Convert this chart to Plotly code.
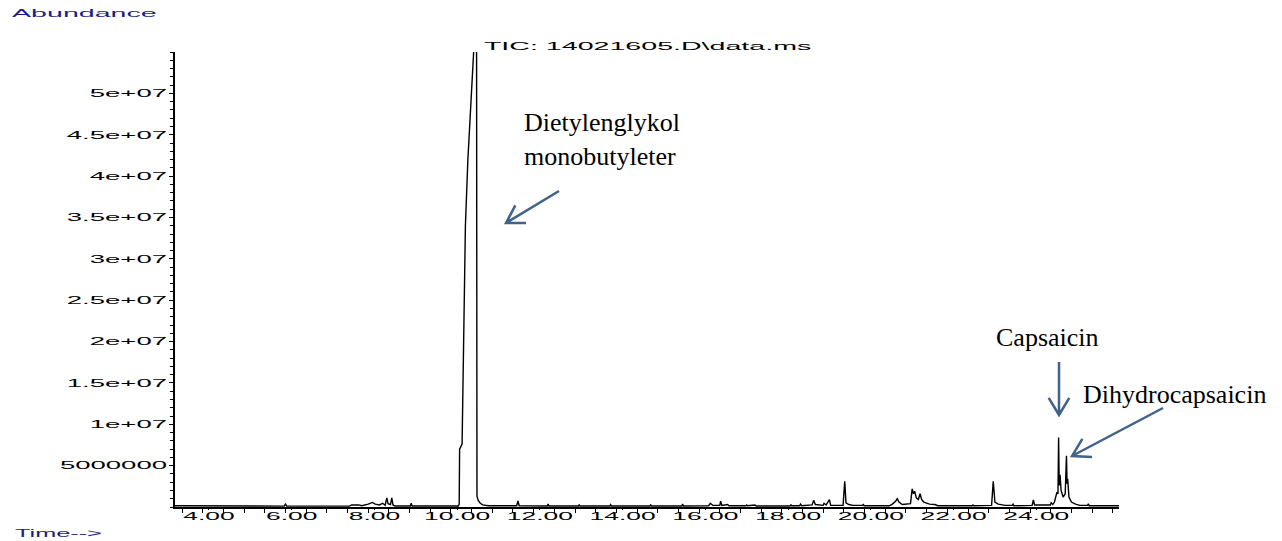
import math
import plotly.graph_objects as go

# ---------------- data ----------------
time_min = [
    3.18, 4.40, 4.45, 5.82, 5.85, 5.88, 7.40, 7.45, 7.62, 7.70, 7.85, 7.95, 8.02, 8.12,
    8.20, 8.26, 8.30, 8.33, 8.39, 8.42, 8.45, 8.50, 8.87, 8.89, 8.91, 10.03, 10.05,
    10.06, 10.12, 10.14, 10.17, 10.20, 10.26, 10.32, 10.37, 10.41, 10.45, 10.47, 10.48,
    10.51, 10.56, 10.62, 10.75, 11.44, 11.47, 11.50, 12.18, 12.20, 12.22, 12.93, 12.95,
    12.97, 13.69, 13.71, 13.73, 14.66, 14.68, 14.70, 15.43, 15.45, 15.47, 16.08, 16.12,
    16.18, 16.35, 16.37, 16.40, 16.54, 16.57, 16.98, 17.00, 17.02, 17.20, 17.23, 18.05,
    18.07, 18.09, 18.28, 18.30, 18.33, 18.58, 18.62, 18.66, 18.85, 18.87, 18.92, 19.00,
    19.03, 19.33, 19.37, 19.40, 19.47, 19.57, 19.80, 19.82, 19.84, 20.45, 20.52, 20.60,
    20.64, 20.68, 20.72, 20.76, 20.96, 21.00, 21.03, 21.06, 21.10, 21.15, 21.19, 21.23,
    21.28, 21.35, 21.42, 21.55, 21.62, 22.45, 22.47, 22.49, 22.92, 22.96, 23.00, 23.08,
    23.25, 23.42, 23.44, 23.46, 23.90, 23.93, 23.96, 24.34, 24.36, 24.40, 24.44, 24.50,
    24.525, 24.54, 24.555, 24.575, 24.60, 24.65, 24.70, 24.73, 24.745, 24.76, 24.79,
    24.85, 24.95, 25.05, 25.24, 25.26, 25.28, 26.00,
]
abundance_millions = [
    0.15, 0.15, 0.10, 0.10, 0.35, 0.10, 0.10, 0.25, 0.25, 0.15, 0.35, 0.55, 0.35, 0.25,
    0.45, 0.20, 1.10, 0.40, 0.30, 1.10, 0.25, 0.12, 0.12, 0.45, 0.12, 0.12, 0.35,
    7.0, 7.6, 15.0, 26.0, 34.0, 42.0, 48.5, 52.5, 56.0, 58.0, 57.0, 1.3,
    0.80, 0.45, 0.25, 0.15, 0.15, 0.75, 0.15, 0.12, 0.35, 0.12, 0.12, 0.25,
    0.12, 0.12, 0.28, 0.12, 0.12, 0.25, 0.12, 0.12, 0.35, 0.12, 0.15, 0.45,
    0.20, 0.20, 0.70, 0.20, 0.30, 0.15, 0.15, 0.25, 0.15, 0.25, 0.12, 0.12,
    0.25, 0.15, 0.15, 0.35, 0.15, 0.25, 0.80, 0.30, 0.20, 0.45, 0.25, 0.90,
    0.20, 0.20, 3.10, 0.50, 0.30, 0.20, 0.20, 0.30, 0.15, 0.15, 0.35, 0.70,
    1.00, 0.60, 0.50, 0.30, 0.40, 2.20, 1.60, 1.90, 1.10, 0.90, 1.60, 0.90,
    0.60, 0.50, 0.35, 0.30, 0.15, 0.15, 0.25, 0.15, 0.20, 3.10, 0.60, 0.35,
    0.20, 0.20, 0.35, 0.15, 0.20, 0.85, 0.25, 0.25, 0.50, 0.30, 0.60, 1.80,
    1.60, 8.40, 2.60, 3.90, 2.00, 1.20, 1.60, 6.20, 2.80, 3.40, 1.20,
    0.60, 0.35, 0.20, 0.20, 0.40, 0.15, 0.15,
]
abundance = [v * 1e6 for v in abundance_millions]

x_tick_values = [4, 6, 8, 10, 12, 14, 16, 18, 20, 22, 24]
x_tick_labels = ["4.00", "6.00", "8.00", "10.00", "12.00", "14.00", "16.00",
                 "18.00", "20.00", "22.00", "24.00"]
y_tick_values = [5e6, 1e7, 1.5e7, 2e7, 2.5e7, 3e7, 3.5e7, 4e7, 4.5e7, 5e7]
y_tick_labels = ["5000000", "1e+07", "1.5e+07", "2e+07", "2.5e+07", "3e+07",
                 "3.5e+07", "4e+07", "4.5e+07", "5e+07"]

title_text = "TIC: 14021605.D\\data.ms"
peak_labels = ["Dietylenglykol<br>monobutyleter", "Capsaicin", "Dihydrocapsaicin"]

# ---------------- layout geometry ----------------
W, H = 1282, 541
ML, MR, MT, MB = 175, 163, 52, 34
PW, PH = W - ML - MR, H - MT - MB


def px(xp):
    return (xp - ML) / PW


def py(yp):
    return (H - MB - yp) / PH


ARROW = "#41628a"
NAVY = "#1d1d84"
MONO = "Liberation Sans, Arial, sans-serif"
SERIF = "Liberation Serif, Times New Roman, serif"

fig = go.Figure()
fig.add_trace(go.Scatter(
    x=time_min, y=abundance, mode="lines",
    line=dict(color="black", width=1.4), hoverinfo="skip", showlegend=False,
))

annotations = [
    dict(text=title_text, x=px(648), y=py(46), xref="paper", yref="paper",
         xanchor="center", yanchor="middle", showarrow=False,
         font=dict(family=MONO, size=11, color="black")),
    dict(text="Abundance", x=px(10), y=py(13), xref="paper", yref="paper",
         xanchor="left", yanchor="middle", showarrow=False,
         font=dict(family=MONO, size=11, color=NAVY)),
    dict(text="Time-->", x=px(13), y=py(533), xref="paper", yref="paper",
         xanchor="left", yanchor="middle", showarrow=False,
         font=dict(family=MONO, size=11, color=NAVY)),
    dict(text=peak_labels[0], x=px(522), y=py(139), xref="paper", yref="paper",
         xanchor="left", yanchor="middle", align="left", showarrow=False,
         font=dict(family=SERIF, size=26, color="black")),
    dict(text=peak_labels[1], x=px(1047), y=py(337), xref="paper", yref="paper",
         xanchor="center", yanchor="middle", showarrow=False,
         font=dict(family=SERIF, size=26, color="black")),
    dict(text=peak_labels[2], x=px(1174), y=py(394), xref="paper", yref="paper",
         xanchor="center", yanchor="middle", showarrow=False,
         font=dict(family=SERIF, size=26, color="black")),
]

# open-V arrows (pixel tail -> pixel tip)
arrows = [((559, 191), (506, 223)), ((1059, 362), (1059, 415)), ((1163, 408), (1072, 456))]
shapes = []
for (tx, ty), (hx, hy) in arrows:
    ang = math.atan2(ty - hy, tx - hx)
    L, half = 20, math.radians(31)
    w1 = (hx + L * math.cos(ang + half), hy + L * math.sin(ang + half))
    w2 = (hx + L * math.cos(ang - half), hy + L * math.sin(ang - half))
    path = (f"M {px(tx)},{py(ty)} L {px(hx)},{py(hy)} "
            f"M {px(w1[0])},{py(w1[1])} L {px(hx)},{py(hy)} L {px(w2[0])},{py(w2[1])}")
    shapes.append(dict(type="path", path=path, xref="paper", yref="paper",
                       line=dict(color=ARROW, width=2.5)))

fig.update_layout(
    width=W, height=H, autosize=False,
    margin=dict(l=ML, r=MR, t=MT, b=MB, pad=0),
    paper_bgcolor="white", plot_bgcolor="white",
    showlegend=False,
    annotations=annotations,
    shapes=shapes,
    font=dict(family=MONO, size=11, color="black"),
    xaxis=dict(
        range=[3.18, 26.0], showgrid=False, zeroline=False,
        showline=True, linecolor="black", linewidth=1.6,
        tickmode="array", tickvals=x_tick_values, ticktext=x_tick_labels,
        ticks="outside", ticklen=1, tickcolor="black", tickwidth=1,
        ticklabelstandoff=-3,
        tickfont=dict(family=MONO, size=11, color="black"),
        minor=dict(ticks="outside", ticklen=4, tick0=3.35, dtick=0.5,
                   tickcolor="black", tickwidth=1),
    ),
    yaxis=dict(
        range=[0, 55.0e6], showgrid=False, zeroline=False,
        showline=True, linecolor="black", linewidth=1.6,
        tickmode="array", tickvals=y_tick_values, ticktext=y_tick_labels,
        ticks="outside", ticklen=4, tickcolor="black", tickwidth=1,
        tickfont=dict(family=MONO, size=11, color="black"),
        minor=dict(ticks="outside", ticklen=3, dtick=1e6, tick0=0,
                   tickcolor="black", tickwidth=1),
    ),
)

# The instrument font is very wide: stretch text horizontally around its anchor.
post = """
var gd = document.getElementById('{plot_id}');
function stretchText(){
  function st(el, sx, mode){
    if (el.getAttribute('data-sx')) return;
    var bb = el.getBBox();
    var cx = mode === 'end' ? bb.x + bb.width : (mode === 'start' ? bb.x : bb.x + bb.width / 2);
    var tr = el.getAttribute('transform') || '';
    el.setAttribute('transform', tr + ' translate(' + cx + ',0) scale(' + sx + ',1) translate(' + (-cx) + ',0)');
    el.setAttribute('data-sx', '1');
  }
  gd.querySelectorAll('.ytick text').forEach(function(t){ st(t, 2.5, 'end'); });
  gd.querySelectorAll('.xtick text').forEach(function(t){ st(t, 2.4, 'middle'); });
  var modes = {'0': ['middle', 2.6], '1': ['start', 2.6], '2': ['start', 2.3]};
  gd.querySelectorAll('g.annotation').forEach(function(g){
    var i = g.getAttribute('data-index');
    if (modes[i]) {
      g.querySelectorAll('text').forEach(function(t){ st(t, modes[i][1], modes[i][0]); });
    }
  });
}
stretchText();
gd.on('plotly_afterplot', stretchText);
"""

fig.write_html("out.html", post_script=post, config={"displayModeBar": False})
